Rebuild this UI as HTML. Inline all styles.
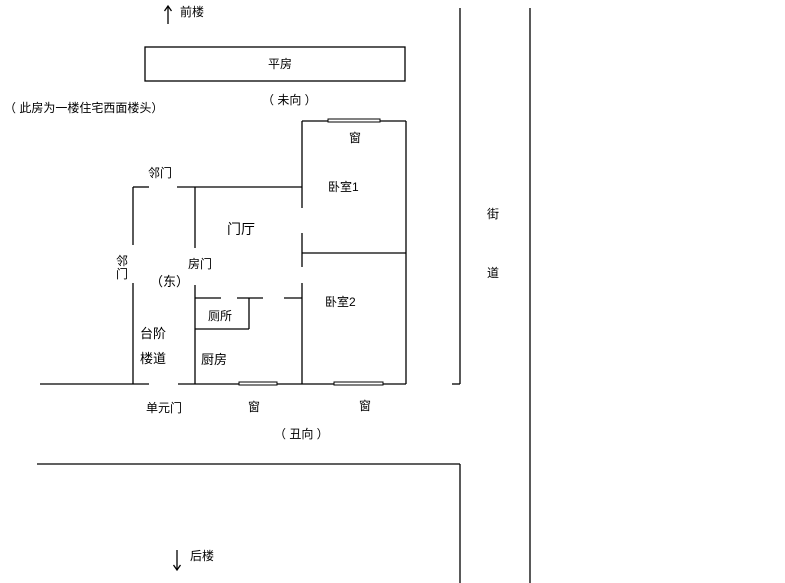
<!DOCTYPE html>
<html><head><meta charset="utf-8"><style>
html,body{margin:0;padding:0;background:#fff;}
svg{display:block}
text{font-family:"Liberation Sans","Noto Sans CJK SC",sans-serif;fill:#000;}
</style></head><body>
<svg width="785" height="583" viewBox="0 0 785 583" xmlns="http://www.w3.org/2000/svg">
<g stroke="#000" stroke-width="1.3" fill="none">
<!-- roads -->
<line x1="460" y1="8" x2="460" y2="384"/>
<line x1="452" y1="384" x2="460" y2="384"/>
<line x1="530" y1="8" x2="530" y2="583"/>
<line x1="37" y1="464" x2="460" y2="464"/>
<line x1="460" y1="464" x2="460" y2="583"/>
<!-- flat box -->
<rect x="145" y="47" width="260" height="34"/>
<!-- arrows -->
<line x1="168" y1="7" x2="168" y2="24"/>
<polyline points="164.5,11 168,6 171.5,11"/>
<line x1="177" y1="550" x2="177" y2="570"/>
<polyline points="173.5,565 177,570 180.5,565"/>
<!-- bedrooms -->
<line x1="302" y1="121" x2="406" y2="121"/>
<line x1="406" y1="121" x2="406" y2="384"/>
<line x1="302" y1="121" x2="302" y2="208"/>
<line x1="302" y1="233" x2="302" y2="267"/>
<line x1="302" y1="283" x2="302" y2="384"/>
<line x1="302" y1="253" x2="406" y2="253"/>
<!-- hall -->
<line x1="133" y1="187" x2="149" y2="187"/>
<line x1="177" y1="187" x2="302" y2="187"/>
<line x1="133" y1="187" x2="133" y2="245"/>
<line x1="133" y1="283" x2="133" y2="384"/>
<line x1="195" y1="187" x2="195" y2="248"/>
<line x1="195" y1="285" x2="195" y2="384"/>
<line x1="195" y1="298" x2="221" y2="298"/>
<line x1="237" y1="298" x2="263" y2="298"/>
<line x1="284" y1="298" x2="302" y2="298"/>
<line x1="249" y1="298" x2="249" y2="329"/>
<line x1="195" y1="329" x2="249" y2="329"/>
<!-- bottom -->
<line x1="40" y1="384" x2="149" y2="384"/>
<line x1="178" y1="384" x2="406" y2="384"/>
</g>
<!-- windows -->
<g fill="#fff" stroke="#000" stroke-width="1">
<rect x="328" y="119" width="52" height="3"/>
<rect x="239" y="382" width="38" height="3"/>
<rect x="334" y="382" width="49" height="3"/>
</g>
<g font-size="12">
<text x="180" y="16">前楼</text>
<text x="268" y="68">平房</text>
<text x="262" y="104">（ 未向 ）</text>
<text x="4" y="112">（ 此房为一楼住宅西面楼头）</text>
<text x="349" y="142">窗</text>
<text x="148" y="177">邻门</text>
<text x="328" y="191">卧室1</text>
<text x="227" y="234" font-size="14">门厅</text>
<text x="116" y="265">邻</text>
<text x="116" y="278">门</text>
<text x="188" y="268">房门</text>
<text x="150" y="286" font-size="13">（东）</text>
<text x="325" y="306">卧室2</text>
<text x="208" y="320">厕所</text>
<text x="140" y="338" font-size="13">台阶</text>
<text x="140" y="363" font-size="13">楼道</text>
<text x="201" y="364" font-size="13">厨房</text>
<text x="146" y="412">单元门</text>
<text x="248" y="411">窗</text>
<text x="359" y="410">窗</text>
<text x="274" y="438">（ 丑向 ）</text>
<text x="487" y="218">街</text>
<text x="487" y="277">道</text>
<text x="190" y="560">后楼</text>
</g>
</svg>
</body></html>
